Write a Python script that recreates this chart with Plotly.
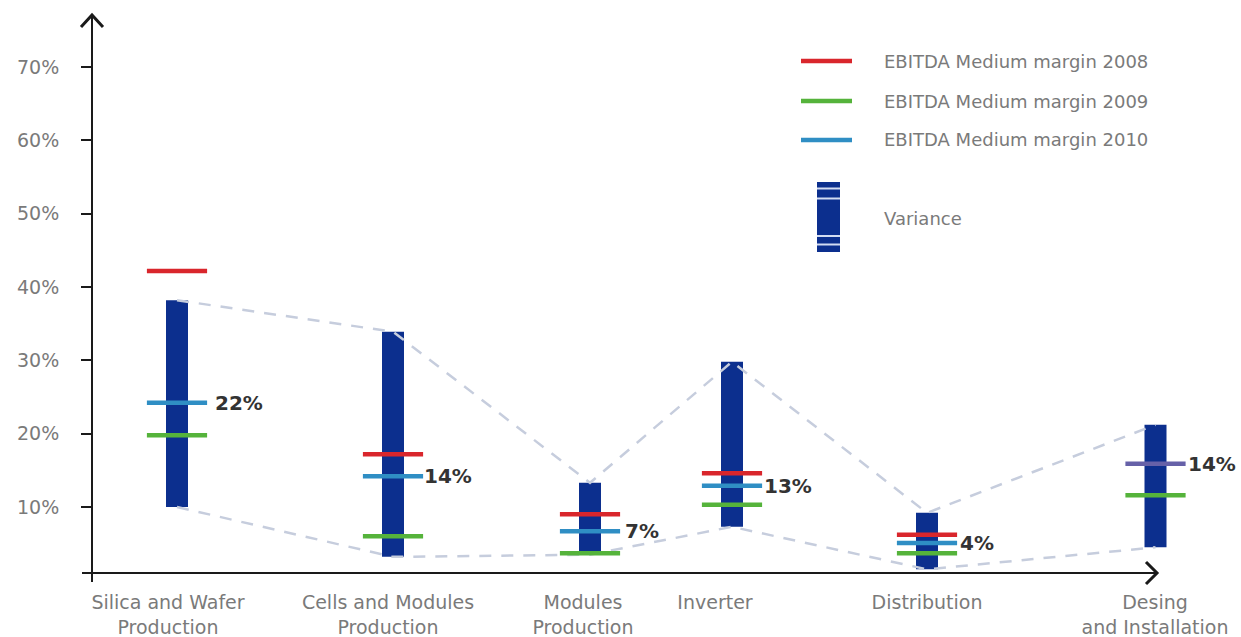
import plotly.graph_objects as go

# Value-chain segments
categories = [
    "Silica and Wafer<br>Production",
    "Cells and Modules<br>Production",
    "Modules<br>Production",
    "Inverter",
    "Distribution",
    "Desing<br>and Installation",
]

# Variance range of EBITDA margin (%) per segment
variance_high = [38.2, 33.9, 13.3, 29.8, 9.2, 21.2]
variance_low = [10.0, 3.2, 3.5, 7.3, 1.5, 4.5]

# EBITDA medium margin (%) per year
margin_2008 = [42.2, 17.2, 9.0, 14.6, 6.2, None]
margin_2009 = [19.8, 6.0, 3.7, 10.3, 3.7, 11.6]
margin_2010 = [24.2, 14.2, 6.7, 12.9, 5.1, 15.9]

# Value labels shown beside each segment
value_labels = ["22%", "14%", "7%", "13%", "4%", "14%"]

# Y axis ticks
y_ticks = [10, 20, 30, 40, 50, 60, 70]
y_tick_text = ["10%", "20%", "30%", "40%", "50%", "60%", "70%"]

# ---- layout geometry -------------------------------------------------------
W, H = 1241, 637
L, T, B = 92, 15, 64
PW, PH = W - L, H - T - B

# horizontal placement of the segments along the (unscaled) x axis
seg_pos = [85, 301, 498, 640, 835, 1063.5]
label_pos = [76, 296, 491, 623, 835, 1063]
label_shift = [36, 29, 33, 30, 31, 30]

NAVY = "#0c2f8e"
RED = "#d9262c"
GREEN = "#55b33b"
BLUE = "#2f8ec4"
DASH = "#c6cddd"
AXIS = "#1a1a1a"
GREY = "#7a7a7a"
FONT = "DejaVu Sans"


def px(x):
    return (x - L) / PW


def py(y):
    return (T + PH - y) / PH


fig = go.Figure()

# dashed envelopes joining the top and bottom of each range
for series in (variance_high, variance_low):
    fig.add_trace(go.Scatter(
        x=seg_pos, y=series, mode="lines",
        line=dict(color=DASH, width=2.5, dash="12px,10px"),
        hoverinfo="skip", showlegend=False,
    ))

# variance bars
fig.add_trace(go.Bar(
    x=seg_pos,
    base=variance_low,
    y=[h - l for h, l in zip(variance_high, variance_low)],
    width=22,
    marker=dict(color=NAVY, line=dict(width=0)),
    showlegend=False,
))

# yearly margin ticks
color_2010 = [BLUE] * 5 + ["#6661a8"]
for vals, col in ((margin_2009, GREEN), (margin_2010, color_2010), (margin_2008, RED)):
    fig.add_trace(go.Scatter(
        x=seg_pos, y=vals, mode="markers",
        marker=dict(symbol="line-ew", size=43, line=dict(color=col, width=4.5)),
        showlegend=False,
    ))

# value labels next to the 2010 tick
for xp, yv, txt, sh in zip(seg_pos, margin_2010, value_labels, label_shift):
    fig.add_annotation(
        x=xp, y=yv, text=txt, showarrow=False, xanchor="left", yanchor="middle",
        xshift=sh, font=dict(family=FONT, size=20, color="#333333", weight="bold"),
    )

shapes = []
# axes with arrowheads
shapes.append(dict(type="line", xref="paper", yref="paper",
                   x0=px(92), x1=px(92), y0=py(582), y1=py(16),
                   line=dict(color=AXIS, width=2)))
shapes.append(dict(type="line", xref="paper", yref="paper",
                   x0=px(82), x1=px(1156), y0=py(573), y1=py(573),
                   line=dict(color=AXIS, width=2)))
shapes.append(dict(type="path", xref="paper", yref="paper",
                   path=f"M {px(81)},{py(27)} L {px(92)},{py(15)} L {px(103)},{py(27)}",
                   line=dict(color=AXIS, width=3)))
shapes.append(dict(type="path", xref="paper", yref="paper",
                   path=f"M {px(1146)},{py(562)} L {px(1157)},{py(573)} L {px(1146)},{py(584)}",
                   line=dict(color=AXIS, width=3)))

# legend
legend_rows = [
    (RED, "EBITDA Medium margin 2008", 61),
    (GREEN, "EBITDA Medium margin 2009", 101),
    (BLUE, "EBITDA Medium margin 2010", 140),
]
for col, txt, yy in legend_rows:
    shapes.append(dict(type="line", xref="paper", yref="paper",
                       x0=px(801), x1=px(852), y0=py(yy), y1=py(yy),
                       line=dict(color=col, width=4.5)))
    fig.add_annotation(x=px(882), y=py(yy), xref="paper", yref="paper", text=txt,
                       showarrow=False, xanchor="left", yanchor="middle",
                       font=dict(family=FONT, size=18, color=GREY))

shapes.append(dict(type="rect", xref="paper", yref="paper",
                   x0=px(817), x1=px(840), y0=py(252), y1=py(182),
                   fillcolor=NAVY, line=dict(width=0)))
for yy in (188.5, 198.5, 236, 244.5):
    shapes.append(dict(type="line", xref="paper", yref="paper",
                       x0=px(817), x1=px(840), y0=py(yy), y1=py(yy),
                       line=dict(color="#d3dcf2", width=2)))
fig.add_annotation(x=px(882), y=py(218), xref="paper", yref="paper", text="Variance",
                   showarrow=False, xanchor="left", yanchor="middle",
                   font=dict(family=FONT, size=18, color=GREY))

fig.update_layout(
    width=W, height=H,
    margin=dict(l=L, r=0, t=T, b=B),
    paper_bgcolor="white", plot_bgcolor="white",
    barmode="overlay",
    showlegend=False,
    shapes=shapes,
    xaxis=dict(
        range=[0, PW], showgrid=False, zeroline=False, showline=False,
        tickmode="array", tickvals=label_pos, ticktext=categories,
        ticks="", ticklabelstandoff=16,
        tickfont=dict(family=FONT, size=19, color=GREY),
        fixedrange=True,
    ),
    yaxis=dict(
        range=[1.0, 1.0 + PH / 7.333], showgrid=False, zeroline=False, showline=False,
        tickmode="array", tickvals=y_ticks, ticktext=y_tick_text,
        ticks="outside", ticklen=10, tickwidth=2, tickcolor=AXIS,
        ticklabelstandoff=18,
        tickfont=dict(family=FONT, size=19, color=GREY),
        fixedrange=True,
    ),
)

fig.write_html("out.html")
